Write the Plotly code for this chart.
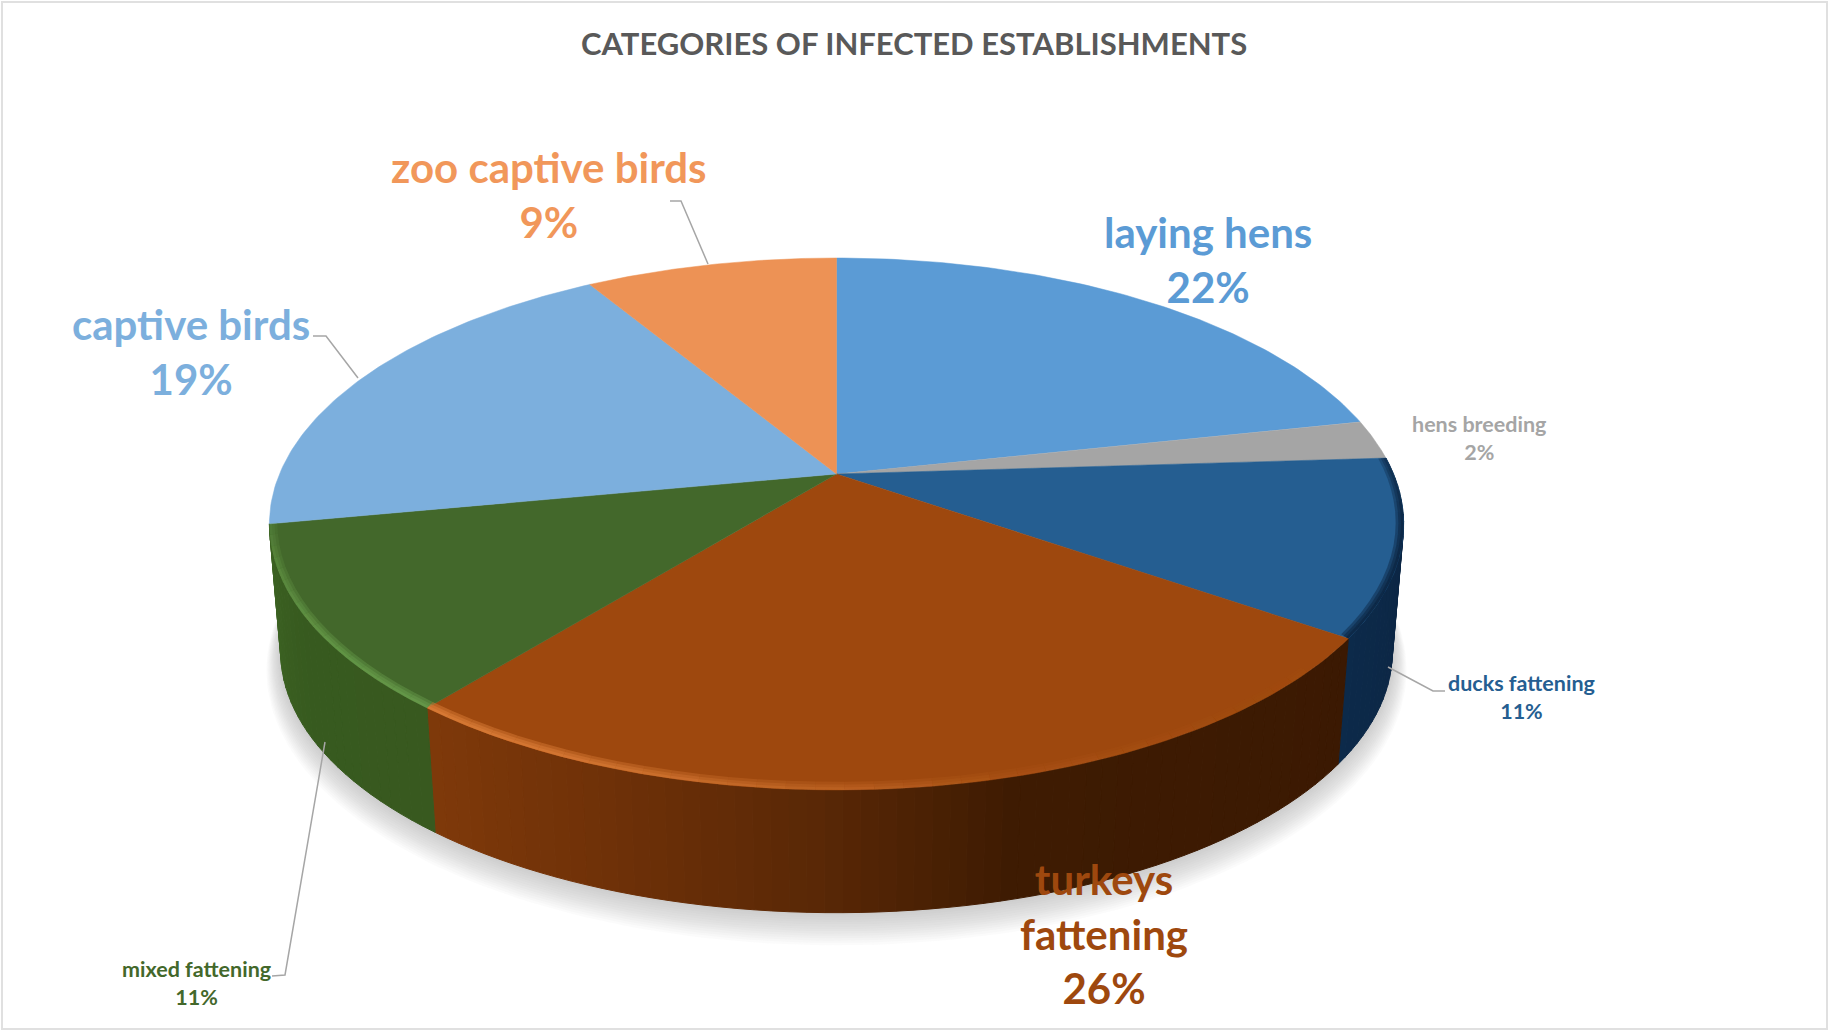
import numpy as np
import plotly.graph_objects as go

categories = ["laying hens", "hens breeding", "ducks fattening", "turkeys<br>fattening",
              "mixed fattening", "captive birds", "zoo captive birds"]
values = [21.6, 2.4, 10.7, 26.1, 11.2, 19.4, 8.6]
top_colors = ["#5b9bd5", "#a5a5a5", "#255e91", "#9e480e", "#43682b", "#7cafdd", "#ed9255"]
text_colors = ["#5b9bd5", "#a5a5a5", "#255e91", "#9e480e", "#43682b", "#7cafdd", "#f1975a"]
label_sizes = [42, 21.5, 21.5, 42, 21.5, 42, 42]
label_xy = [(1208, 259), (1479, 438), (1521, 697), (1104, 933), (196, 983), (191, 351), (549, 194)]
title_text = "CATEGORIES OF INFECTED ESTABLISHMENTS"

# side shading stops: (angle in degrees clockwise from 12 o'clock, colour)
side_stops = {
    2: [(86, "#0b2340"), (126, "#0c2a4a")],
    3: [(123, "#3b1902"), (165, "#3e1b02"), (182, "#5a2806"), (200, "#6f3108"), (220, "#803a0a")],
    4: [(219, "#38591f"), (240, "#375a1f"), (260, "#3c6322")],
}

W, H = 1829, 1031
CX, CY, R, S, K = 836.5, 474.0, 557.0, 256.6, 0.188
BS, BY = 0.98, 603.0


def hex_rgb(c):
    return np.array([int(c[i:i + 2], 16) for i in (1, 3, 5)], float)


def rgb_hex(a):
    return "#%02x%02x%02x" % tuple(int(round(v)) for v in np.clip(a, 0, 255))


def top_xy(theta):
    t = np.radians(theta)
    u, v = np.sin(t), np.cos(t)
    d = 1 + K * v
    return CX + R * u / d, CY - S * v / d


def bot_xy(theta, grow=0.0, dy=0.0):
    t = np.radians(theta)
    u, v = np.sin(t), np.cos(t)
    d = 1 + K * v
    return CX + (R * BS + grow) * u / d, BY + dy - (S * BS + grow) * v / d


def shade(stops, th):
    a = [s[0] for s in stops]
    cols = np.array([hex_rgb(s[1]) for s in stops])
    return rgb_hex([np.interp(th, a, cols[:, i]) for i in range(3)])


fig = go.Figure()


def poly(x, y, color, lw=0.0):
    fig.add_trace(go.Scatter(x=list(x), y=list(y), mode="lines", fill="toself", fillcolor=color,
                             line=dict(color=color, width=lw), hoverinfo="skip", showlegend=False))


# soft shadow under the disc
th_all = np.linspace(75, 285, 160)
for i in range(14):
    g = 28 - i * 2.0
    x, y = bot_xy(th_all, grow=g * 0.5, dy=g * 0.55)
    poly(x, y, "rgba(130,135,140,0.035)")

edges = np.concatenate([[0], np.cumsum(values)]) * 3.6

# sides
for i in range(len(values)):
    a, b = edges[i], edges[i + 1]
    if i not in side_stops:
        continue
    n = max(int((b - a) / 1.5), 2)
    ts = np.linspace(a, b, n + 1)
    for t0, t1 in zip(ts[:-1], ts[1:]):
        arc = np.linspace(t0, t1, 4)
        xt, yt = top_xy(arc)
        xb, yb = bot_xy(arc[::-1])
        poly(np.r_[xt, xb, xt[0]], np.r_[yt, yb, yt[0]], shade(side_stops[i], (t0 + t1) / 2), lw=1)

# top faces
for i in range(len(values)):
    arc = np.linspace(edges[i], edges[i + 1], 90)
    x, y = top_xy(arc)
    poly(np.r_[CX, x, CX], np.r_[CY, y, CY], top_colors[i], lw=0.5)


# soft bevel along the front rim: nested translucent bands
def bevel(th_from, th_to, rgb, alpha_stops):
    ts = np.linspace(th_from, th_to, int(abs(th_to - th_from) / 2.5) + 2)
    for t0, t1 in zip(ts[:-1], ts[1:]):
        alpha = float(np.interp((t0 + t1) / 2, [s[0] for s in alpha_stops], [s[1] for s in alpha_stops]))
        if alpha <= 0.01:
            continue
        arc = np.linspace(t0, t1, 3)
        ox, oy = top_xy(arc)
        for f in (1.0, 0.66, 0.33):
            ix = CX + (ox - CX) * (1 - 0.014 * f)
            iy = CY + (oy - CY) * (1 - 0.026 * f)
            poly(np.r_[ox, ix[::-1], ox[0]], np.r_[oy, iy[::-1], oy[0]], f"rgba({rgb},{alpha:.3f})")


bevel(edges[2], edges[3], "8,28,52", [(86, 0.25), (100, 0.4), (124, 0.4)])
bevel(edges[3], edges[4], "225,130,60", [(123, 0.0), (165, 0.05), (185, 0.2), (205, 0.4), (220, 0.45)])
bevel(edges[4], edges[5], "110,165,80", [(219, 0.4), (240, 0.3), (260, 0.1)])

# labels
for i, c in enumerate(categories):
    x, y = label_xy[i]
    fig.add_annotation(x=x, y=y, xref="x", yref="y", showarrow=False, align="center",
                       text=f"<b>{c}<br>{round(values[i])}%</b>", xanchor="center", yanchor="middle",
                       font=dict(family="Lato", size=label_sizes[i], color=text_colors[i]))

leaders = [
    [(670, 201), (681, 201), (708, 264)],
    [(313, 336), (326, 336), (358, 378)],
    [(1388, 667), (1433, 691), (1445, 691)],
    [(325, 742), (285, 975), (272, 976)],
]
shapes = [dict(type="rect", x0=2, y0=2, x1=W - 2, y1=H - 2, line=dict(color="#e0e0e0", width=2),
               fillcolor="rgba(0,0,0,0)", layer="below")]
for pts in leaders:
    path = "M " + " L ".join(f"{p[0]} {p[1]}" for p in pts)
    shapes.append(dict(type="path", path=path, line=dict(color="#a6a6a6", width=1.5)))

fig.add_annotation(x=914, y=43, xref="x", yref="y", showarrow=False, text=f"<b>{title_text}</b>",
                   xanchor="center", yanchor="middle",
                   font=dict(family="Lato", size=31, color="#595959"))

fig.update_layout(width=W, height=H, margin=dict(l=0, r=0, t=0, b=0), paper_bgcolor="white",
                  plot_bgcolor="white", showlegend=False, shapes=shapes,
                  xaxis=dict(range=[0, W], visible=False, fixedrange=True),
                  yaxis=dict(range=[H, 0], visible=False, fixedrange=True))

fig.write_html("out.html", config={"displayModeBar": False},
               post_script="document.body.style.margin='0';document.documentElement.style.overflow='hidden';")
